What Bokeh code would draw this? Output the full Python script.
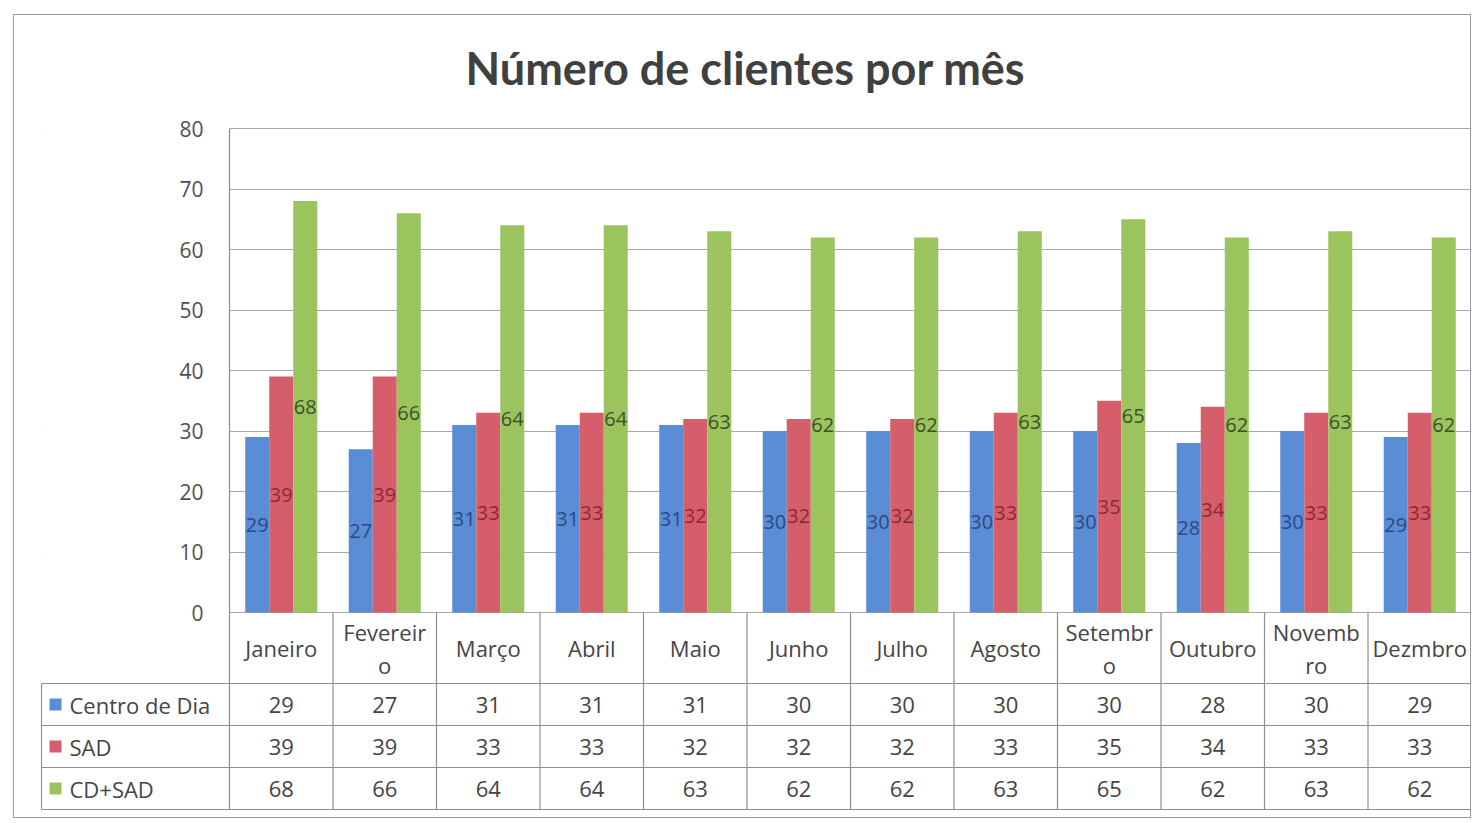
from bokeh.plotting import figure
from bokeh.models import Range1d, FixedTicker, Title
from bokeh.layouts import column
from bokeh.embed import file_html
from bokeh.resources import INLINE
from bokeh.core.properties import value

# ---------------- data ----------------
months = ["Janeiro", "Fevereiro", "Março", "Abril", "Maio", "Junho", "Julho",
          "Agosto", "Setembro", "Outubro", "Novembro", "Dezmbro"]
month_labels = ["Janeiro", "Fevereir\no", "Março", "Abril", "Maio", "Junho", "Julho",
                "Agosto", "Setembr\no", "Outubro", "Novemb\nro", "Dezmbro"]
series_names = ["Centro de Dia", "SAD", "CD+SAD"]
centro_de_dia = [29, 27, 31, 31, 31, 30, 30, 30, 30, 28, 30, 29]
sad = [39, 39, 33, 33, 32, 32, 32, 33, 35, 34, 33, 33]
cd_sad = [68, 66, 64, 64, 63, 62, 62, 63, 65, 62, 63, 62]
y_ticks = [0, 10, 20, 30, 40, 50, 60, 70, 80]
title_text = "Número de clientes por mês"

# ---------------- style ----------------
FONT = "Open Sans"
TITLE_FONT = "Lato"
bar_colors = ["#5b8cd6", "#d55e6a", "#9bc45f"]
label_colors = ["#2b4a86", "#8a2a33", "#3c5128"]
TXT = "#454545"
GRID = "#a8a8a8"
TABLE_LINE = "#8f8f8f"
BAR_W = 0.232
offsets = [-BAR_W, 0.0, BAR_W]
series_values = [centro_de_dia, sad, cd_sad]

# geometry (pixels -> data units)
XU = 103.5            # px per month
PX = 484 / 80         # px per value unit
LEFT_COL = 188 / XU   # legend column width in month units
HEADER = 71 / PX      # header row height in value units
ROW = 42 / PX         # table row height in value units
FRAME_W = 1430
FRAME_H = 701
x_start = -(188 + 1) / XU
x_end = x_start + FRAME_W / XU
table_bottom = -(HEADER + 3 * ROW)
y_start = table_bottom - 2 / PX
y_end = y_start + FRAME_H / PX

n = len(months)
p = figure(width=1456, height=802,
           x_range=Range1d(x_start, x_end), y_range=Range1d(y_start, y_end),
           output_backend="svg", toolbar_location=None,
           min_border_left=26, min_border_right=0, min_border_top=95, min_border_bottom=6)
p.title = Title(text=title_text, align="left", offset=425, text_font=TITLE_FONT,
                text_font_size="45px", text_font_style="bold", text_color="#404040",
                standoff=32)
p.outline_line_color = None
p.xaxis.visible = False
p.xgrid.grid_line_color = None
p.ygrid.ticker = FixedTicker(ticks=y_ticks)
p.ygrid.grid_line_color = GRID
p.ygrid.grid_line_width = 1.2

# white cover so gridlines start at the value axis
p.quad(left=[x_start - 1], right=[0], bottom=[-1], top=[y_end + 5],
       fill_color="white", line_color=None)

# value axis at x = 0
p.yaxis.fixed_location = 0
p.yaxis.bounds = (table_bottom, 80)
p.yaxis.ticker = FixedTicker(ticks=y_ticks)
p.yaxis.axis_line_color = "#8c8c8c"
p.yaxis.axis_line_width = 1.2
p.yaxis.major_tick_line_color = None
p.yaxis.minor_tick_line_color = None
p.yaxis.major_label_text_font = FONT
p.yaxis.major_label_text_font_size = "21px"
p.yaxis.major_label_text_color = "#505050"
p.yaxis.major_label_standoff = 20

# bars + labels
centers = [i + 0.5 for i in range(n)]
for k in range(3):
    xs = [c + offsets[k] for c in centers]
    vals = series_values[k]
    p.vbar(x=xs, top=vals, bottom=0, width=BAR_W,
           fill_color=bar_colors[k], line_color=None)
    p.text(x=xs, y=[v / 2 for v in vals], text=[str(v) for v in vals],
           text_align="center", text_baseline="middle",
           text_font=value(FONT), text_font_size="20px", text_color=label_colors[k])

# ---------------- data table ----------------
row_tops = [-HEADER, -HEADER - ROW, -HEADER - 2 * ROW, -HEADER - 3 * ROW]
p.segment(x0=[-LEFT_COL] * 4, x1=[n] * 4, y0=row_tops, y1=row_tops,
          line_color=TABLE_LINE, line_width=1.2)
vx = list(range(1, n + 1))
p.segment(x0=vx, x1=vx, y0=[table_bottom] * len(vx), y1=[0] * len(vx),
          line_color=TABLE_LINE, line_width=1.2)
p.segment(x0=[-LEFT_COL], x1=[-LEFT_COL], y0=[table_bottom], y1=[-HEADER],
          line_color=TABLE_LINE, line_width=1.2)

p.text(x=centers, y=[-HEADER / 2] * n, text=month_labels,
       text_align="center", text_baseline="middle", text_line_height=1.1,
       text_font=value(FONT), text_font_size="22px", text_color=TXT)

row_y = [-HEADER - 0.5 * ROW, -HEADER - 1.5 * ROW, -HEADER - 2.5 * ROW]
for k in range(3):
    p.text(x=centers, y=[row_y[k]] * n, text=[str(v) for v in series_values[k]],
           text_align="center", text_baseline="middle",
           text_font=value(FONT), text_font_size="22px", text_color=TXT)

p.rect(x=[-LEFT_COL + 14 / XU] * 3, y=row_y, width=12, height=12,
       width_units="screen", height_units="screen",
       fill_color=bar_colors, line_color=None)
p.text(x=[-LEFT_COL + 28 / XU] * 3, y=row_y, text=series_names,
       text_align="left", text_baseline="middle",
       text_font=value(FONT), text_font_size="22px", text_color=TXT)

layout = column(p, margin=(14, 0, 0, 13), styles={"border": "1px solid #9a9a9a"})

open("out.html", "w").write(file_html(layout, INLINE))
